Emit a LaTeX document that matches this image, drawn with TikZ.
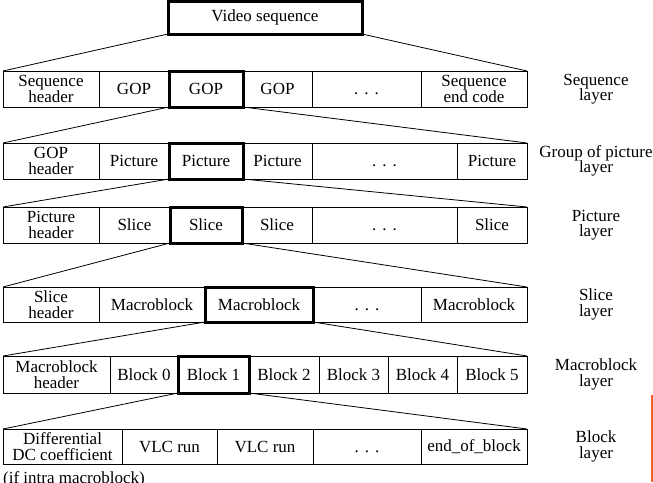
\documentclass[tikz,border=0pt]{standalone}
\usepackage{fontspec}
\setmainfont{Liberation Serif}
\usetikzlibrary{positioning}
\definecolor{slideorange}{RGB}{240, 96, 40}
\newcommand{\celldots}{\vphantom{G}.\hspace{0.35em}.\hspace{0.35em}.}
\tikzset{
  cell/.style={rectangle, draw=black, line width=0.8pt, inner sep=0pt, outer sep=0pt,
               align=center, font=\fontsize{17}{15.5}\selectfont},
  selframe/.style={draw=black, line width=3pt},
  link/.style={draw=black, line width=0.8pt},
  layerlabel/.style={align=center, inner sep=0pt, font=\fontsize{17}{15.5}\selectfont},
}

\begin{document}
\begin{tikzpicture}[x=1pt, y=-1pt]
    \useasboundingbox (0,0) rectangle (653,482);

    \node[cell, minimum width=194pt, minimum height=33pt] (vs) at (265,17.5) {Video sequence};

    % sequence layer
    \foreach \xa/\xb/\txt [count=\i] in {3/99/{Sequence\\ header}, 99/169/GOP, 169/243/GOP,
        243/312/GOP, 312/421/{\celldots}, 421/527/{Sequence\\ end code}}
      \node[cell, minimum width={(\xb-\xa)*1pt}, minimum height=36pt] (seq-\i) at ({(\xa+\xb)/2},89) {\txt};

    % group of picture layer
    \foreach \xa/\xb/\txt [count=\i] in {3/99/{GOP\\ header}, 99/169/Picture, 169/243/Picture,
        243/312/Picture, 312/457/{\celldots}, 457/527/Picture}
      \node[cell, minimum width={(\xb-\xa)*1pt}, minimum height=36pt] (gop-\i) at ({(\xa+\xb)/2},161) {\txt};

    % picture layer
    \foreach \xa/\xb/\txt [count=\i] in {3/99/{Picture\\ header}, 99/170/Slice, 170/242/Slice,
        242/312/Slice, 312/457/{\celldots}, 457/527/Slice}
      \node[cell, minimum width={(\xb-\xa)*1pt}, minimum height=36pt] (pic-\i) at ({(\xa+\xb)/2},225) {\txt};

    % slice layer
    \foreach \xa/\xb/\txt [count=\i] in {3/99/{Slice\\ header}, 99/205/Macroblock, 205/313/Macroblock,
        313/421/{\celldots}, 421/527/Macroblock}
      \node[cell, minimum width={(\xb-\xa)*1pt}, minimum height=35pt] (slc-\i) at ({(\xa+\xb)/2},304.5) {\txt};

    % macroblock layer
    \foreach \xa/\xb/\txt [count=\i] in {3/110/{Macroblock\\ header}, 110/178/Block 0, 178/249/Block 1,
        249/319/Block 2, 319/388/Block 3, 388/457/Block 4, 457/527/Block 5}
      \node[cell, minimum width={(\xb-\xa)*1pt}, minimum height=37pt] (mb-\i) at ({(\xa+\xb)/2},374.5) {\txt};

    % block layer
    \foreach \xa/\xb/\txt [count=\i] in {3/122/{Differential\\ DC coefficient}, 122/217/VLC run,
        217/313/VLC run, 313/421/{\celldots}, 421/527/end\_of\_block}
      \node[cell, minimum width={(\xb-\xa)*1pt}, minimum height=35pt] (blk-\i) at ({(\xa+\xb)/2},446.5) {\txt};

    \node[anchor=north west, inner sep=0pt, font=\fontsize{17}{15.5}\selectfont] (intra) at (3,471)
        {(if intra macroblock)};

    % layer names
    \node[layerlabel] (l-seq) at (596,89) {Sequence\\ layer};
    \node[layerlabel] (l-gop) at (596,161) {Group of picture\\ layer};
    \node[layerlabel] (l-pic) at (596,225) {Picture\\ layer};
    \node[layerlabel] (l-slc) at (596,304.5) {Slice\\ layer};
    \node[layerlabel] (l-mb) at (596,374.5) {Macroblock\\ layer};
    \node[layerlabel] (l-blk) at (596,446.5) {Block\\ layer};

    % zoom lines
    \draw[link] (vs.south west) -- (seq-1.north west);
    \draw[link] (vs.south east) -- (seq-6.north east);
    \draw[link] (seq-3.south west) -- (gop-1.north west);
    \draw[link] (seq-3.south east) -- (gop-6.north east);
    \draw[link] (gop-3.south west) -- (pic-1.north west);
    \draw[link] (gop-3.south east) -- (pic-6.north east);
    \draw[link] (pic-3.south west) -- (slc-1.north west);
    \draw[link] (pic-3.south east) -- (slc-5.north east);
    \draw[link] (slc-3.south west) -- (mb-1.north west);
    \draw[link] (slc-3.south east) -- (mb-7.north east);
    \draw[link] (mb-3.south west) -- (blk-1.north west);
    \draw[link] (mb-3.south east) -- (blk-5.north east);

    % selected boxes
    \foreach \n in {vs, seq-3, gop-3, pic-3, slc-3, mb-3}
      \draw[selframe] (\n.north west) rectangle (\n.south east);

    \draw[slideorange, line width=2pt] (652,395) -- (652,482);
\end{tikzpicture}
\end{document}
